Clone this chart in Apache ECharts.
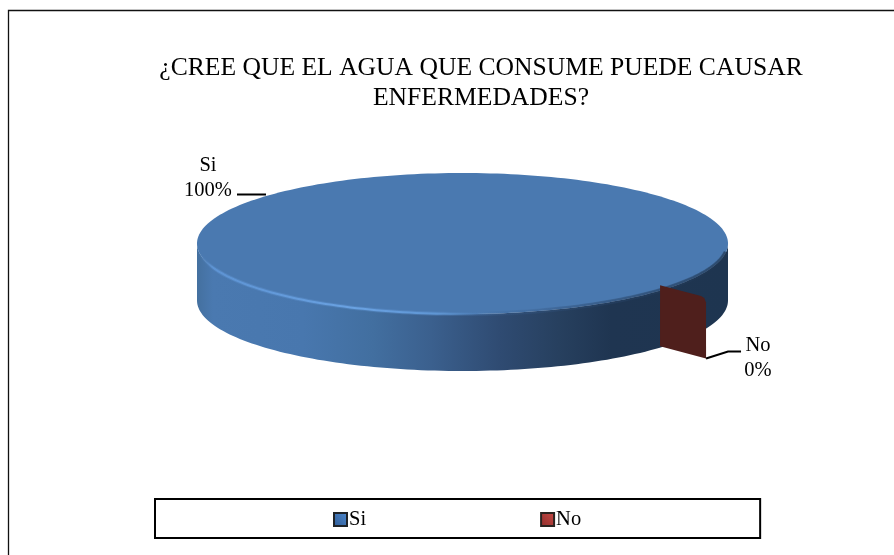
<!DOCTYPE html>
<html>
<head>
<meta charset="utf-8">
<style>html,body{margin:0;padding:0;background:#fff}#c{width:894px;height:555px}</style>
<script src="https://cdn.jsdelivr.net/npm/echarts@6/dist/echarts.min.js"></script>
</head>
<body>
<div id="c"></div>
<script>
const titleLines = ['¿CREE QUE EL AGUA QUE CONSUME PUEDE CAUSAR', 'ENFERMEDADES?'];
const categories = ['Si', 'No'];
const answers = [100, 0];

// Disc geometry: the projected ellipse, its thickness and where slices begin
const disc = { cx: 462.5, cy: 243.5, rx: 265.5, ry: 70.5, depth: 57, firstAngle: 135 };
// The second slice is pulled out of the disc by this offset
const pulled = { dx: 55.8, dy: 4.1, depth: 61, innerFraction: 0.755, corner: 5 };
const serif = '"Liberation Serif", "Times New Roman", serif';
const total = answers.reduce((a, b) => a + b, 0);

function rim(c, deg, fraction) {
  const t = deg * Math.PI / 180, f = fraction === undefined ? 1 : fraction;
  return [c.cx + c.rx * f * Math.sin(t), c.cy - c.ry * f * Math.cos(t)];
}
function arc(c, from, to) {
  const pts = [], n = Math.max(2, Math.ceil(Math.abs(to - from) / 1.5));
  for (let i = 0; i <= n; i++) pts.push(rim(c, from + (to - from) * i / n));
  return pts;
}
function hgrad(stops) {
  return { type: 'linear', x: disc.cx - disc.rx, y: 0, x2: disc.cx + disc.rx, y2: 0, global: true,
    colorStops: stops.map(s => ({ offset: s[0], color: s[1] })) };
}
function leader(points) {
  return { type: 'polyline', shape: { points }, style: { stroke: '#000', lineWidth: 2, fill: null } };
}
function label(index, x, y) {
  const pct = Math.round(answers[index] / total * 100);
  return { type: 'text', x, y, style: {
    text: categories[index] + '\n' + pct + '%', fill: '#000', font: '20.5px ' + serif,
    align: 'center', verticalAlign: 'middle', lineHeight: 25 } };
}

// Large slice: front wall, top face, bevel highlight along the front rim
function renderSi(params, api) {
  const sweep = api.value(0) / total * 360;
  const bottom = Object.assign({}, disc, { cy: disc.cy + disc.depth });
  const wall = arc(disc, 90, 270).concat(arc(bottom, 270, 90));
  const top = arc(disc, disc.firstAngle, disc.firstAngle + sweep);
  const front = arc(disc, 97, 268);
  return { type: 'group', children: [
    { type: 'polygon', shape: { points: wall }, style: { fill: hgrad([
      [0, '#44709f'], [0.03, '#4a79b0'], [0.2, '#4877ae'], [0.33, '#426fa0'],
      [0.44, '#3b608e'], [0.57, '#2f4b72'], [0.68, '#27405f'], [0.78, '#1f3551'], [1, '#1e3550']]) } },
    { type: 'polygon', shape: { points: top }, style: { fill: '#4a79b0' } },
    { type: 'polyline', shape: { points: front }, style: { fill: null, lineWidth: 5, stroke: hgrad([
      [0, 'rgba(74,121,176,0)'], [0.5, 'rgba(74,121,176,0)'], [0.7, 'rgba(36,62,96,0.25)'],
      [0.9, 'rgba(30,53,80,0.35)'], [1, 'rgba(30,53,80,0.4)']]) } },
    { type: 'polyline', shape: { points: front }, style: { fill: null, lineWidth: 4, stroke: hgrad([
      [0, 'rgba(74,121,176,0)'], [0.04, 'rgba(100,155,220,0.3)'], [0.45, 'rgba(100,155,220,0.3)'],
      [0.58, 'rgba(60,100,150,0.15)'], [0.85, 'rgba(36,62,96,0.4)'], [1, 'rgba(30,53,80,0.5)']]) } },
    { type: 'polyline', shape: { points: front }, style: { fill: null, lineWidth: 2, stroke: hgrad([
      [0, 'rgba(74,121,176,0)'], [0.03, '#5d93d3'], [0.3, '#6aa2e2'], [0.45, '#5f96d4'],
      [0.58, 'rgba(74,121,176,0)'], [1, 'rgba(74,121,176,0)']]) } },
    leader([[237, 194.5], [266, 194.5]]),
    label(0, 208, 178)
  ] };
}

// Empty slice: only its cut face shows, in front of the disc wall
function renderNo(params, api) {
  const share = answers.slice(0, 1).reduce((a, b) => a + b, 0) + api.value(0);
  const angle = disc.firstAngle + share / total * 360;
  const c = Object.assign({}, disc, { cx: disc.cx + pulled.dx, cy: disc.cy + pulled.dy });
  const inner = rim(c, angle, pulled.innerFraction), outer = rim(c, angle, 1);
  const k = pulled.corner;
  const face = [
    inner,
    [outer[0] - k, outer[1] - k * 0.27],
    [outer[0] - k * 0.35, outer[1] + k * 0.1],
    [outer[0], outer[1] + k],
    [outer[0], outer[1] + pulled.depth],
    [inner[0], inner[1] + pulled.depth]
  ];
  const foot = [outer[0], outer[1] + pulled.depth];
  return { type: 'group', children: [
    { type: 'polygon', shape: { points: face }, style: { fill: '#4f1f1c' } },
    leader([foot, [foot[0] + 22, foot[1] - 7], [foot[0] + 35, foot[1] - 7]]),
    label(1, 758, 358.5)
  ] };
}

const chart = echarts.init(document.getElementById('c'), null, { renderer: 'canvas' });
chart.setOption({
  animation: false,
  backgroundColor: '#fff',
  title: {
    text: titleLines.join('\n'), left: 476, top: 48, textAlign: 'center',
    textStyle: { fontFamily: serif, fontSize: 25.6, fontWeight: 'normal', color: '#000', lineHeight: 30 }
  },
  graphic: [{ type: 'rect', shape: { x: 8.5, y: 10.5, width: 900, height: 560 },
    style: { fill: null, stroke: '#111', lineWidth: 1.3 }, z: -1 }],
  legend: {
    left: 155, top: 499, orient: 'horizontal', selectedMode: false,
    borderColor: '#000', borderWidth: 2, backgroundColor: '#fff',
    padding: [10, 179, 8, 178], itemGap: 174, itemWidth: 13, itemHeight: 13,
    textStyle: { fontFamily: serif, fontSize: 20.5, color: '#000', padding: [2, 0, 0, -3] },
    data: [
      { name: 'Si', icon: 'rect', itemStyle: { borderColor: '#1f2328', borderWidth: 2,
        color: { type: 'linear', x: 0, y: 1, x2: 1, y2: 0, colorStops: [{ offset: 0, color: '#2d5a94' }, { offset: 1, color: '#4f8ad0' }] } } },
      { name: 'No', icon: 'rect', itemStyle: { borderColor: '#2a2320', borderWidth: 2,
        color: { type: 'linear', x: 0, y: 1, x2: 1, y2: 0, colorStops: [{ offset: 0, color: '#8f2d2a' }, { offset: 1, color: '#c84a46' }] } } }
    ]
  },
  series: [
    { type: 'custom', name: categories[0], coordinateSystem: 'none', data: [[answers[0]]],
      itemStyle: { color: '#4a79b0' }, renderItem: renderSi, silent: true, z: 2 },
    { type: 'custom', name: categories[1], coordinateSystem: 'none', data: [[answers[1]]],
      itemStyle: { color: '#4f1f1c' }, renderItem: renderNo, silent: true, z: 3 }
  ]
});
</script>
</body>
</html>
